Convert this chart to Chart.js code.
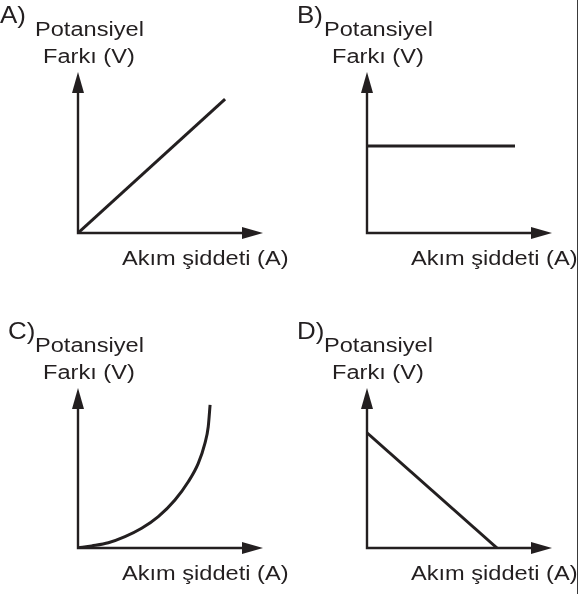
<!DOCTYPE html>
<html>
<head>
<meta charset="utf-8">
<script src="https://cdn.jsdelivr.net/npm/chart.js@4/dist/chart.umd.min.js"></script>
<style>
  html, body { margin: 0; padding: 0; background: #fff; }
  #wrap { position: relative; width: 579px; height: 594px; overflow: hidden; }
  canvas { position: absolute; }
  #border { position: absolute; left: 577px; top: 0; width: 1px; height: 594px; background: #3a3a3a; }
</style>
</head>
<body>
<div id="wrap">
  <canvas id="chartA" width="289" height="300" style="left:0;top:0"></canvas>
  <canvas id="chartB" width="290" height="300" style="left:289px;top:0"></canvas>
  <canvas id="chartC" width="289" height="294" style="left:0;top:300px"></canvas>
  <canvas id="chartD" width="290" height="294" style="left:289px;top:300px"></canvas>
  <div id="border"></div>
</div>
<script>
// current (x) and potential difference (y), in units of the axis length (0..10)
const currentA = [0, 7.95];
const voltageA = [0, 8.32];

const currentB = [0, 8.0];
const voltageB = [5.4, 5.4];

const currentC = [0, 0.74, 1.64, 2.54, 3.44, 4.34, 5.24, 5.96, 6.50, 6.86, 7.04, 7.14];
const voltageC = [0, 0.13, 0.33, 0.71, 1.23, 1.96, 3.0, 4.14, 5.29, 6.54, 7.58, 8.94];

const currentD = [0, 7.03];
const voltageD = [7.2, 0];

const panelLabels = ['A)', 'B)', 'C)', 'D)'];
const yTitle = ['Potansiyel', 'Farkı (V)'];
const xTitle = 'Akım şiddeti (A)';

const INK = '#231f20';
const FONT = '20px "Liberation Sans", Arial, sans-serif';
const LABEL_FONT = '24px "Liberation Sans", Arial, sans-serif';
const STRETCH = 1.18;

function stretchedText(ctx, text, x, y, sx) {
  ctx.save();
  ctx.translate(x, y);
  ctx.scale(sx, 1);
  ctx.fillText(text, 0, 0);
  ctx.restore();
}

// draws the arrowed axes and the texts around the chart area
const axesPlugin = {
  id: 'arrowAxes',
  beforeDatasetsDraw(chart, args, opts) {
    const { ctx, chartArea: a } = chart;
    const ox = a.left, oy = a.bottom;
    ctx.save();
    ctx.strokeStyle = INK;
    ctx.fillStyle = INK;
    ctx.lineWidth = 2.4;
    ctx.beginPath();
    ctx.moveTo(ox, a.top + 18);
    ctx.lineTo(ox, oy);
    ctx.lineTo(a.right - 18, oy);
    ctx.stroke();
    // y arrowhead
    ctx.beginPath();
    ctx.moveTo(ox, a.top);
    ctx.lineTo(ox - 6, a.top + 21);
    ctx.lineTo(ox + 6, a.top + 21);
    ctx.closePath();
    ctx.fill();
    // x arrowhead
    ctx.beginPath();
    ctx.moveTo(a.right, oy);
    ctx.lineTo(a.right - 21, oy - 6);
    ctx.lineTo(a.right - 21, oy + 6);
    ctx.closePath();
    ctx.fill();

    ctx.textBaseline = 'alphabetic';
    ctx.font = LABEL_FONT;
    stretchedText(ctx, opts.label, ox + opts.labelShift, a.top - 49, 1.08);
    ctx.font = FONT;
    stretchedText(ctx, yTitle[0], ox - 43, a.top - 36, STRETCH);
    stretchedText(ctx, yTitle[1], ox - 35, a.top - 9, STRETCH);
    stretchedText(ctx, xTitle, ox + 44, oy + 32, STRETCH);
    ctx.restore();
  },
};

function makeChart(id, label, labelShift, xs, ys, padding, curved) {
  const ctx = document.getElementById(id).getContext('2d');
  return new Chart(ctx, {
    type: 'line',
    data: {
      datasets: [{
        data: xs.map((x, i) => ({ x, y: ys[i] })),
        borderColor: INK,
        borderWidth: 3,
        pointRadius: 0,
        fill: false,
        cubicInterpolationMode: curved ? 'monotone' : 'default',
        tension: 0,
      }],
    },
    options: {
      responsive: false,
      animation: false,
      devicePixelRatio: 1,
      layout: { padding },
      plugins: {
        legend: { display: false },
        tooltip: { enabled: false },
        arrowAxes: { label, labelShift },
      },
      scales: {
        x: { type: 'linear', min: 0, max: 10, display: false },
        y: { type: 'linear', min: 0, max: 10, display: false },
      },
    },
    plugins: [axesPlugin],
  });
}

const topPad = { left: 78, right: 26, top: 72, bottom: 67 };
const bottomPad = { left: 78, right: 26, top: 88, bottom: 46 };

makeChart('chartA', panelLabels[0], -78, currentA, voltageA, topPad, false);
makeChart('chartB', panelLabels[1], -70, currentB, voltageB, { ...topPad, right: 27 }, false);
makeChart('chartC', panelLabels[2], -70, currentC, voltageC, bottomPad, true);
makeChart('chartD', panelLabels[3], -70, currentD, voltageD, { ...bottomPad, right: 27 }, false);
</script>
</body>
</html>
